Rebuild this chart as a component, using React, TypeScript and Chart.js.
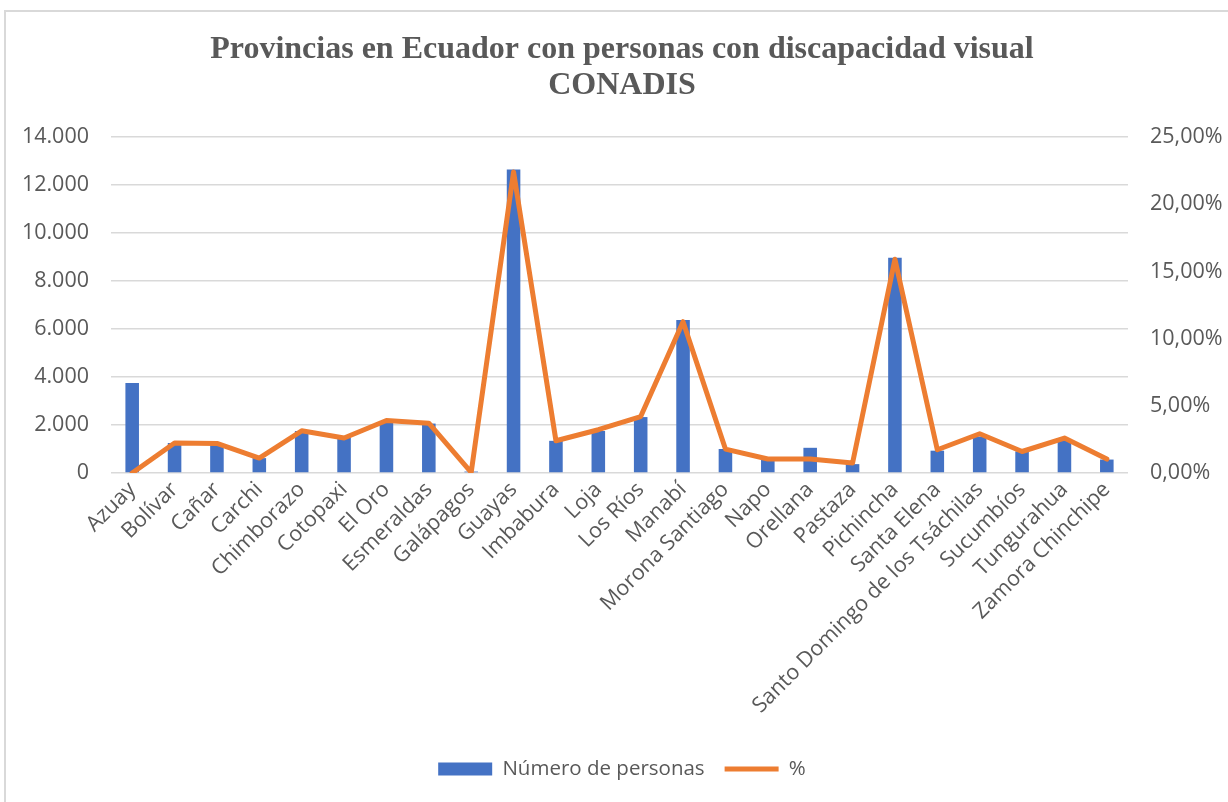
import React, { useEffect, useRef } from "react";
import { Chart, registerables } from "chart.js";

Chart.register(...registerables);

const categories = [
  "Azuay", "Bolívar", "Cañar", "Carchi", "Chimborazo", "Cotopaxi", "El Oro",
  "Esmeraldas", "Galápagos", "Guayas", "Imbabura", "Loja", "Los Ríos", "Manabí",
  "Morona Santiago", "Napo", "Orellana", "Pastaza", "Pichincha", "Santa Elena",
  "Santo Domingo de los Tsáchilas", "Sucumbíos", "Tungurahua", "Zamora Chinchipe",
];

const personas = [
  3750, 1250, 1200, 620, 1750, 1480, 2130, 2060, 60, 12650, 1340, 1750, 2330, 6380,
  1000, 600, 1050, 370, 8970, 930, 1520, 900, 1390, 560,
];

const porcentaje = [
  0, 2.23, 2.2, 1.11, 3.14, 2.6, 3.91, 3.71, 0.05, 22.4, 2.4, 3.22, 4.2, 11.26,
  1.78, 1.04, 1.04, 0.74, 15.9, 1.73, 2.92, 1.6, 2.6, 1.04,
];

const titleLines = ["Provincias en Ecuador con personas con discapacidad visual", "CONADIS"];
const seriesNames = ["Número de personas", "%"];

const W = 1228;
const H = 802;
const TEXT = "#595959";
const GRID = "#d9d9d9";
const SANS = "'Open Sans', 'Noto Sans', sans-serif";
const FS = 21.5;

function thousands(v: number): string {
  return String(Math.round(v)).replace(/\B(?=(\d{3})+(?!\d))/g, ".");
}

export default function App() {
  const ref = useRef<HTMLCanvasElement | null>(null);

  useEffect(() => {
    if (!ref.current) return;
    const chart = new Chart(ref.current, {
      type: "bar",
      data: {
        labels: categories,
        datasets: [
          {
            type: "bar",
            label: seriesNames[0],
            data: personas,
            backgroundColor: "#4472c4",
            borderWidth: 0,
            yAxisID: "y",
            order: 1,
            barPercentage: 0.32,
            categoryPercentage: 1,
            pointStyle: "rect",
          },
          {
            type: "line",
            label: seriesNames[1],
            data: porcentaje,
            borderColor: "#ed7d31",
            backgroundColor: "#ed7d31",
            borderWidth: 5,
            pointRadius: 0,
            tension: 0,
            borderJoinStyle: "round",
            borderCapStyle: "round",
            yAxisID: "y1",
            order: 0,
            pointStyle: "line",
          },
        ],
      },
      options: {
        animation: false,
        responsive: false,
        maintainAspectRatio: false,
        layout: { padding: { left: 8, right: -8, top: 0, bottom: 12.75 } },
        plugins: {
          tooltip: { enabled: false },
          title: {
            display: true,
            text: titleLines,
            color: TEXT,
            font: { family: "'Liberation Serif', 'Times New Roman', serif", size: 32, weight: "bold", lineHeight: 1.125 },
            padding: { top: 32, bottom: 33 },
          },
          legend: {
            position: "bottom",
            labels: {
              usePointStyle: true,
              pointStyleWidth: 54,
              boxHeight: 13,
              padding: 20,
              color: TEXT,
              font: { family: SANS, size: 20.5 },
              sort: (a: any, b: any) => a.datasetIndex - b.datasetIndex,
            },
          },
        },
        scales: {
          x: {
            grid: { display: false, drawTicks: false },
            border: { display: false },
            ticks: {
              autoSkip: false,
              maxRotation: 45,
              minRotation: 45,
              color: TEXT,
              font: { family: SANS, size: FS },
              padding: 4,
            },
            afterFit: (s: any) => {
              s.height = 265.75;
            },
          },
          y: {
            position: "left",
            min: 0,
            max: 14000,
            grid: { color: GRID, lineWidth: 1.5, drawTicks: false },
            border: { display: false },
            ticks: {
              stepSize: 2000,
              padding: 22,
              color: TEXT,
              font: { family: SANS, size: FS },
              callback: (v: any) => thousands(Number(v)),
            },
            afterFit: (s: any) => {
              s.width = 103;
            },
          },
          y1: {
            position: "right",
            min: 0,
            max: 25,
            grid: { display: false, drawTicks: false },
            border: { display: false },
            ticks: {
              stepSize: 5,
              padding: 22,
              color: TEXT,
              font: { family: SANS, size: FS },
              callback: (v: any) => Number(v).toFixed(2).replace(".", ",") + "%",
            },
            afterFit: (s: any) => {
              s.width = 108;
            },
          },
        },
      },
    });
    return () => chart.destroy();
  }, []);

  return (
    <div style={{ position: "fixed", left: 0, top: 0, width: W, height: H, background: "#fff", overflow: "hidden" }}>
      <canvas ref={ref} width={W} height={H} style={{ position: "absolute", left: 0, top: 0, width: W, height: H }} />
      <div
        style={{
          position: "absolute",
          left: 4,
          top: 10,
          width: W + 20,
          height: H + 20,
          borderLeft: `2px solid ${GRID}`,
          borderTop: `2px solid ${GRID}`,
          pointerEvents: "none",
        }}
      />
    </div>
  );
}
